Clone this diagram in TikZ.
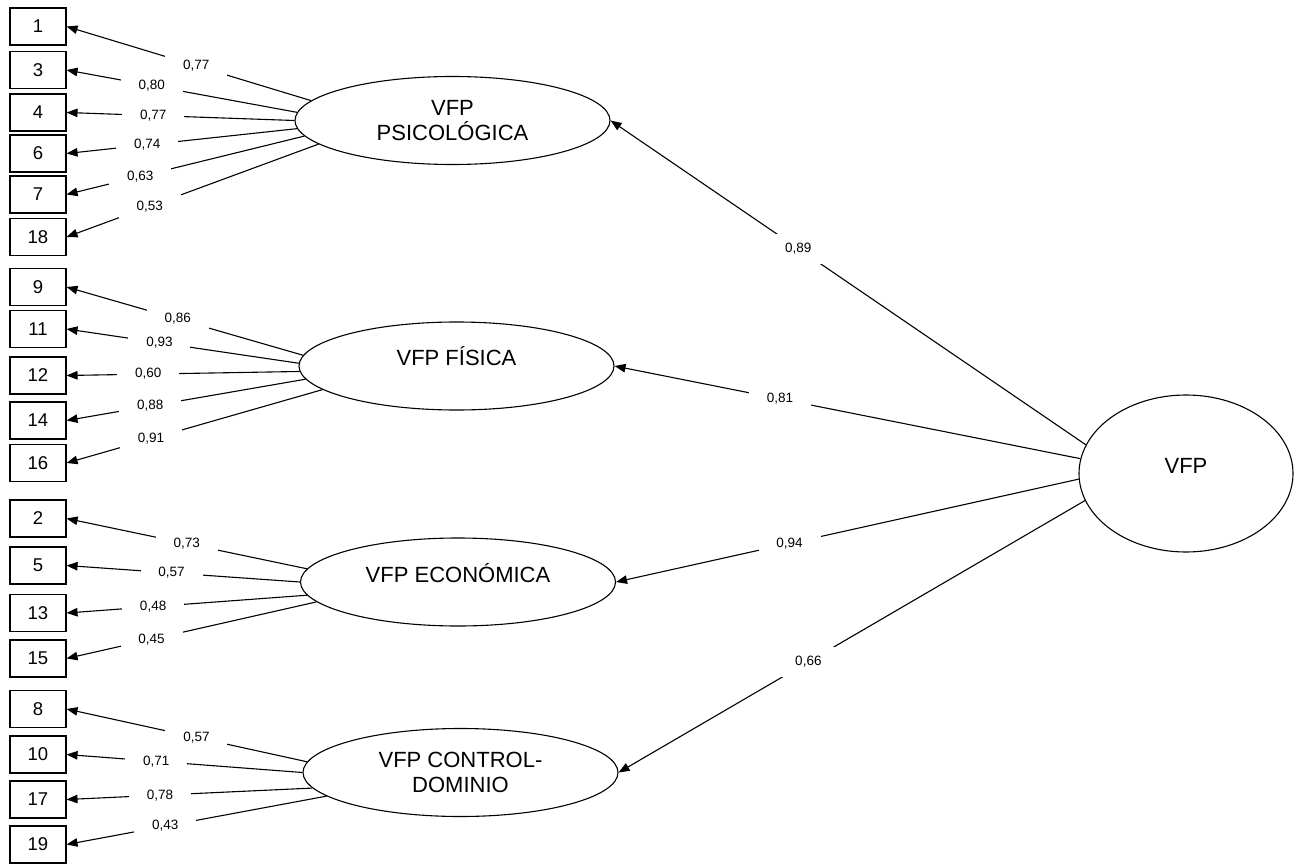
\documentclass[tikz,border=0pt]{standalone}
\usepackage{fontspec}
\setmainfont{Liberation Sans}
\usepackage{tikz}
\tikzstyle{item}=[draw,line width=1.1pt,minimum width=56pt,minimum height=37pt,inner sep=0pt,font=\fontsize{18.5}{22}\selectfont]
\tikzstyle{factor}=[draw,ellipse,line width=1.1pt,minimum width=315pt,minimum height=88pt,inner sep=0pt,align=center,font=\fontsize{22}{25}\selectfont]
\tikzstyle{load}=[line width=1.1pt,-{Triangle[length=11pt,width=8.5pt]}]
\tikzstyle{coef}=[fill=white,minimum width=62pt,minimum height=30pt,inner sep=0pt,font=\fontsize{13.5}{16}\selectfont]
\usetikzlibrary{arrows.meta,shapes.geometric}

\begin{document}
\begin{tikzpicture}[x=1pt,y=-1pt]
          \useasboundingbox (0,0) rectangle (1301,864);

          \node[factor] (psi) at (452.5,120.5) {VFP\\PSICOLÓGICA};
          \node[factor,text height=16pt,text depth=17pt] (fis) at (456.5,366) {VFP FÍSICA};
          \node[factor,text height=16pt,text depth=16pt] (eco) at (458,582) {VFP ECONÓMICA};
          \node[factor] (ctl) at (460.5,772.5) {VFP CONTROL-\\DOMINIO};
          \node[factor,minimum width=214pt,minimum height=157pt,text height=16pt,text depth=17pt] (vfp) at (1186,473.5) {VFP};

          \node[item] (i1) at (38,26.5) {1};
          \node[item] (i3) at (38,70) {3};
          \node[item] (i4) at (38,112.5) {4};
          \node[item] (i6) at (38,153.5) {6};
          \node[item] (i7) at (38,194.5) {7};
          \node[item] (i18) at (38,237) {18};

          \node[item] (i9) at (38,287) {9};
          \node[item] (i11) at (38,329) {11};
          \node[item] (i12) at (38,375.5) {12};
          \node[item] (i14) at (38,420.5) {14};
          \node[item] (i16) at (38,463) {16};

          \node[item] (i2) at (38,518.5) {2};
          \node[item] (i5) at (38,565.5) {5};
          \node[item] (i13) at (38,613) {13};
          \node[item] (i15) at (38,658.5) {15};

          \node[item] (i8) at (38,709) {8};
          \node[item] (i10) at (38,754.5) {10};
          \node[item] (i17) at (38,799.5) {17};
          \node[item] (i19) at (38,844.5) {19};

          % VFP sobre los factores
          \draw[load] (vfp.164) -- node[coef,pos=0.605]{0,89} (psi.east);
          \draw[load] (vfp.172) -- node[coef,pos=0.645]{0,81} (fis.east);
          \draw[load] (vfp.183) -- node[coef,pos=0.625]{0,94} (eco.east);
          \draw[load] (vfp.195) -- node[coef,pos=0.593]{0,66} (ctl.east);

          % factores sobre los items
          \draw[load] (psi.172) -- node[coef,pos=0.47]{0,77} (i1.east);
          \draw[load] (psi.177) -- node[coef,pos=0.63]{0,80} (i3.east);
          \draw[load] (psi.180.5) -- node[coef,pos=0.62]{0,77} (i4.east);
          \draw[load] (psi.183.5) -- node[coef,pos=0.65]{0,74} (i6.east);
          \draw[load] (psi.186.5) -- node[coef,pos=0.69]{0,63} (i7.east);
          \draw[load] (psi.190) -- node[coef,pos=0.67]{0,53} (i18.east);

          \draw[load] (fis.176.6) -- node[coef,pos=0.53]{0,86} (i9.east);
          \draw[load] (fis.179.6) -- node[coef,pos=0.60]{0,93} (i11.east);
          \draw[load] (fis.182.4) -- node[coef,pos=0.65]{0,60} (i12.east);
          \draw[load] (fis.185.9) -- node[coef,pos=0.65]{0,88} (i14.east);
          \draw[load] (fis.190.2) -- node[coef,pos=0.67]{0,91} (i16.east);

          \draw[load] (eco.175.2) -- node[coef,pos=0.50]{0,73} (i2.east);
          \draw[load] (eco.180.5) -- node[coef,pos=0.55]{0,57} (i5.east);
          \draw[load] (eco.185.4) -- node[coef,pos=0.64]{0,48} (i13.east);
          \draw[load] (eco.188.6) -- node[coef,pos=0.66]{0,45} (i15.east);

          \draw[load] (ctl.176.4) -- node[coef,pos=0.46]{0,57} (i8.east);
          \draw[load] (ctl.180.9) -- node[coef,pos=0.62]{0,71} (i10.east);
          \draw[load] (ctl.186.3) -- node[coef,pos=0.62]{0,78} (i17.east);
          \draw[load] (ctl.190.4) -- node[coef,pos=0.62]{0,43} (i19.east);
        \end{tikzpicture}
\end{document}
